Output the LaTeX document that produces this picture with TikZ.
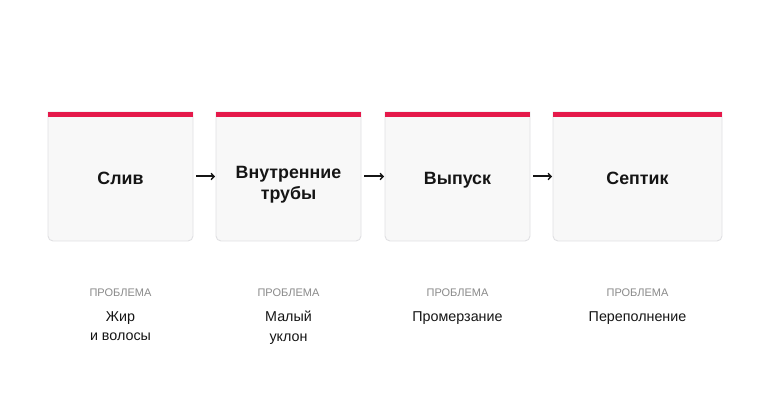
\documentclass[tikz,border=0pt]{standalone}
\usepackage{fontspec}
\setmainfont{Liberation Sans}
\usetikzlibrary{arrows.meta}
\definecolor{barred}{HTML}{E5194A}
\definecolor{boxfill}{HTML}{F8F8F8}
\definecolor{boxline}{HTML}{E0E0E3}
\definecolor{labgray}{HTML}{8A8A8A}
\definecolor{ink}{HTML}{151515}
\tikzset{
  frame/.style={rectangle, inner sep=0pt, outer sep=0pt},
  boxbody/.style={fill=boxfill, draw=boxline, line width=0.9pt},
  redbar/.style={fill=barred},
  title/.style={font=\fontsize{17.8}{21}\selectfont\bfseries, text=ink, align=center, inner sep=0pt},
  kicker/.style={font=\fontsize{11}{13}\selectfont, text=labgray, anchor=north, inner sep=0pt},
  problem/.style={font=\fontsize{14.3}{19.5}\selectfont, text=ink, align=center, anchor=north, inner sep=0pt},
  arr/.style={draw=ink, line width=2pt, -{Straight Barb[length=3pt,width=6.5pt,line width=1.4pt]}}
}
\begin{document}
\begin{tikzpicture}[x=1pt,y=1pt]
\useasboundingbox[fill=white] (0,0) rectangle (770,417);
% frames (y = 417 - px)
\node[frame, minimum width=145pt, minimum height=129pt] (b1) at (120.5,240.5) {};
\node[frame, minimum width=145pt, minimum height=129pt] (b2) at (288.5,240.5) {};
\node[frame, minimum width=145pt, minimum height=129pt] (b3) at (457.5,240.5) {};
\node[frame, minimum width=169pt, minimum height=129pt] (b4) at (637.5,240.5) {};
\foreach \b in {b1,b2,b3,b4}{
  \path[boxbody] (\b.north west) -- ([yshift=5pt]\b.south west)
    arc[start angle=180,end angle=270,radius=5pt] -- ([xshift=-5pt]\b.south east)
    arc[start angle=270,end angle=360,radius=5pt] -- (\b.north east) -- cycle;
  \fill[redbar] ([xshift=-0.45pt,yshift=0.2pt]\b.north west) rectangle ([xshift=0.45pt,yshift=-5pt]\b.north east);
}
% titles
\node[title, anchor=base] (t1) at (120.5,232) {Слив};
\node[title, anchor=north] (t2) at (288.5,251) {Внутренние\\трубы};
\node[title, anchor=base] (t3) at (457.5,232) {Выпуск};
\node[title, anchor=base] (t4) at (637.5,232) {Септик};
% arrows
\draw[arr] ([xshift=3pt]b1.east) -- ([xshift=-1pt]b2.west);
\draw[arr] ([xshift=3pt]b2.east) -- ([xshift=-1pt]b3.west);
\draw[arr] ([xshift=3pt]b3.east) -- ([xshift=-1pt]b4.west);
% kickers
\node[kicker] (k1) at (120.5,128) {ПРОБЛЕМА};
\node[kicker] (k2) at (288.5,128) {ПРОБЛЕМА};
\node[kicker] (k3) at (457.5,128) {ПРОБЛЕМА};
\node[kicker] (k4) at (637.5,128) {ПРОБЛЕМА};
% problems
\node[problem] (p1) at (120.5,106) {Жир\\и волосы};
\node[problem] (p2) at (288.5,106) {Малый\\уклон};
\node[problem] (p3) at (457.5,106) {Промерзание};
\node[problem] (p4) at (637.5,106) {Переполнение};
\end{tikzpicture}
\end{document}
